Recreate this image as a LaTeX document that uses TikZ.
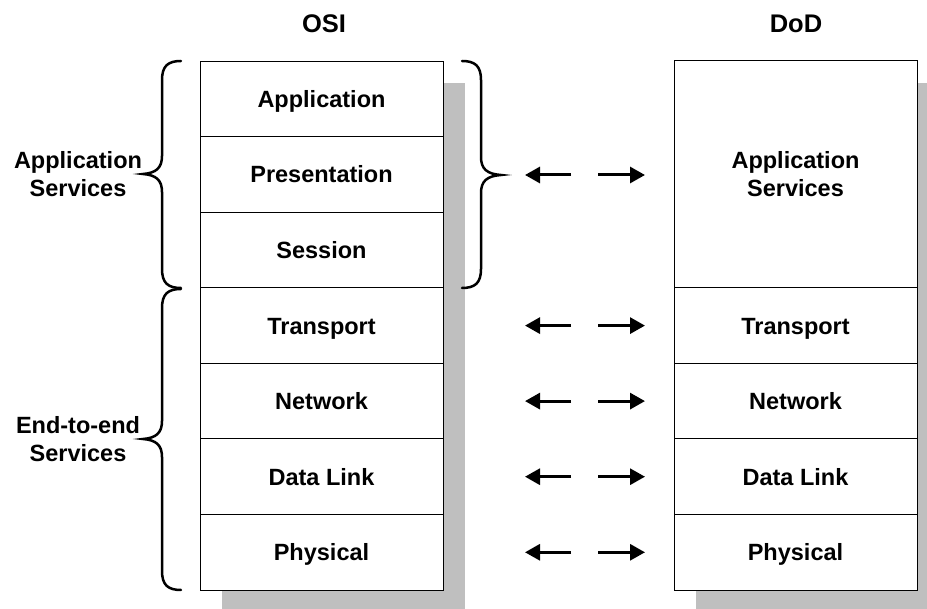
\documentclass[tikz,border=0pt]{standalone}
\usepackage{fontspec}
\setmainfont{Liberation Sans}
\usetikzlibrary{arrows.meta}
\begin{document}
\begin{tikzpicture}[x=1pt,y=-1pt,
  layer/.style={draw=black,line width=1pt,fill=white,minimum width=243pt,minimum height=75.57pt,inner sep=0pt,
     font=\fontsize{23.5}{28}\selectfont\bfseries,text height=17pt,text depth=0pt},
  bigbox/.style={draw=black,line width=1pt,fill=white,minimum width=243pt,minimum height=227pt,inner sep=0pt,
     align=center,font=\fontsize{23.5}{28}\selectfont\bfseries},
  title/.style={font=\fontsize{25.5}{30}\selectfont\bfseries,text height=18.5pt,text depth=0pt,inner sep=0pt},
  sidelabel/.style={align=center,font=\fontsize{23.5}{28}\selectfont\bfseries,inner sep=0pt},
  shadow/.style={fill=black!25,draw=none},
  bracket/.style={line width=2.5pt,line cap=round},
  arr/.style={line width=3pt,-{Triangle[length=15pt,width=16pt]}}]
\useasboundingbox (0,0) rectangle (927,609);
\clip (0,0) rectangle (927,609);
% shadows
\fill[shadow] (222,83) rectangle (465,612);
\fill[shadow] (696,83) rectangle (939,612);
% titles
\node[title] (osi) at (324,23) {OSI};
\node[title] (dod) at (796,23) {DoD};
% OSI layers
\node[layer] (app)  at (321.5,98.8)  {Application};
\node[layer] (pres) at (321.5,174.4) {Presentation};
\node[layer] (sess) at (321.5,250.0) {Session};
\node[layer] (trans) at (321.5,325.6) {Transport};
\node[layer] (net)  at (321.5,401.1) {Network};
\node[layer] (dl)   at (321.5,476.7) {Data Link};
\node[layer] (phys) at (321.5,552.3) {Physical};
% DoD layers
\node[bigbox] (dapp) at (795.5,174.5) {Application\\Services};
\node[layer] (dtrans) at (795.5,325.6) {Transport};
\node[layer] (dnet)  at (795.5,401.1) {Network};
\node[layer] (ddl)   at (795.5,476.7) {Data Link};
\node[layer] (dphys) at (795.5,552.3) {Physical};
% side labels
\node[sidelabel] (lapp) at (78,174) {Application\\Services};
\node[sidelabel] (lend) at (78,439) {End-to-end\\Services};
% braces
\draw[bracket] (181,61) .. controls (168,61) and (162,66) .. (162,80) -- (162,156)
   .. controls (162,168) and (156,173) .. (143,174)
   .. controls (156,175) and (162,180) .. (162,192) -- (162,269)
   .. controls (162,283) and (168,288) .. (181,288);
\draw[bracket] (181,289) .. controls (168,289) and (162,294) .. (162,308) -- (162,421)
   .. controls (162,433) and (156,438) .. (143,439)
   .. controls (156,440) and (162,445) .. (162,457) -- (162,571)
   .. controls (162,585) and (168,590) .. (181,590);
\draw[bracket] (462,61) .. controls (475,61) and (481,66) .. (481,80) -- (481,157)
   .. controls (481,169) and (487,174) .. (501,175)
   .. controls (487,176) and (481,181) .. (481,193) -- (481,269)
   .. controls (481,283) and (475,288) .. (462,288);
% arrows
\foreach \n/\y in {a/175,t/325.6,n/401.1,d/476.7,p/552.3}{
  \coordinate (L\n s) at (571,\y); \coordinate (L\n e) at (525,\y);
  \coordinate (R\n s) at (598,\y); \coordinate (R\n e) at (645,\y);
  \draw[arr] (L\n s) -- (L\n e);
  \draw[arr] (R\n s) -- (R\n e);
}
\end{tikzpicture}
\end{document}
